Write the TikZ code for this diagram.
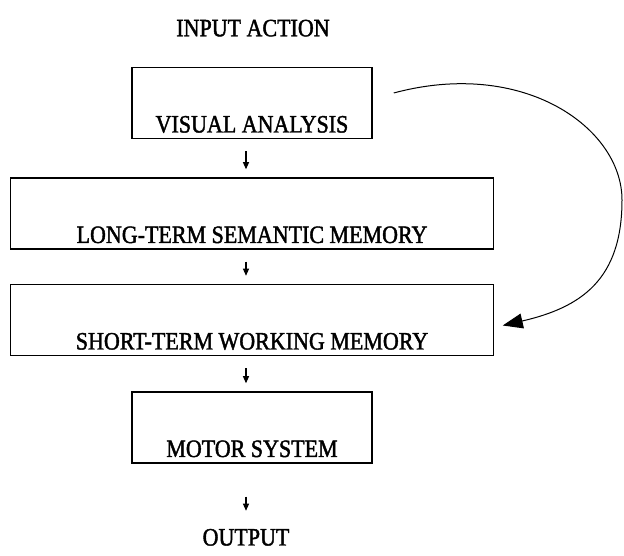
\documentclass[tikz,border=0pt]{standalone}
\usepackage{fontspec}
\setmainfont{Liberation Serif}[FakeStretch=0.88, FakeBold=1.6]
\usepackage{tikz}
\usetikzlibrary{arrows.meta,positioning}

\begin{document}
\begin{tikzpicture}[
                x=1pt, y=1pt,
                font=\fontsize{25}{30}\selectfont,
                stage/.style={draw, line width=1.5pt, align=center, text height=59pt, text depth=0pt, inner ysep=6pt, inner xsep=0pt},
                label/.style={inner sep=0pt},
                flow/.style={-{Triangle[length=7pt,width=6pt]}, line width=1.1pt, shorten <=12pt, shorten >=8pt},
                loop/.style={-{Triangle[length=20pt,width=15pt]}, line width=1pt}
            ]
            \useasboundingbox (0,0) rectangle (624,556);
            \node[stage, minimum width=240pt] (visual) at (252,453) {VISUAL ANALYSIS};
            \node[label, above=30pt of visual, xshift=1pt] (input) {INPUT ACTION};
            \node[stage, minimum width=483pt, below=38pt of visual] (longterm) {LONG-TERM SEMANTIC MEMORY};
            \node[stage, minimum width=483pt, below=34pt of longterm] (shortterm) {SHORT-TERM WORKING MEMORY};
            \node[stage, minimum width=240pt, below=35pt of shortterm] (motor) {MOTOR SYSTEM};
            \node[label, below=65pt of motor, xshift=-6pt] (output) {OUTPUT};
            \coordinate (bend) at (622,356);
            \draw[flow] (visual.south -| output) -- (longterm.north -| output);
            \draw[flow] (longterm.south -| output) -- (shortterm.north -| output);
            \draw[flow] (shortterm.south -| output) -- (motor.north -| output);
            \draw[flow, shorten <=33pt, shorten >=18pt] (motor.south -| output) -- (output);
            \draw[loop] ([shift={(21,10)}]visual.east) .. controls +(130,35) and +(0,72) .. (bend)
                .. controls +(0,-80) and +(78,18) .. ([shift={(8.5,-5.5)}]shortterm.east);
        \end{tikzpicture}
\end{document}
